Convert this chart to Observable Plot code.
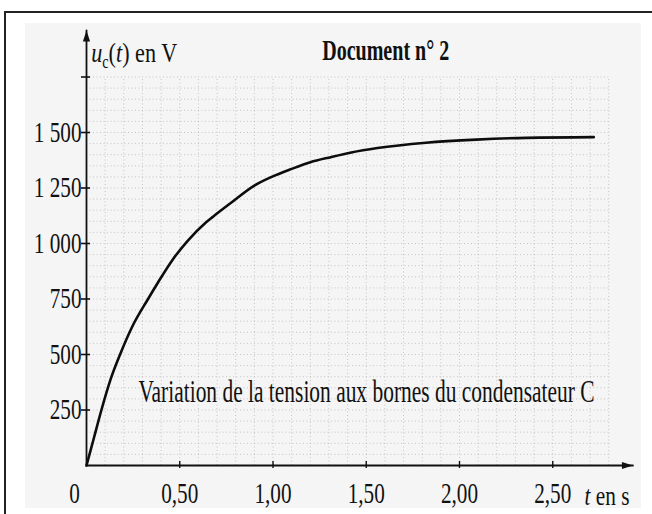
<!DOCTYPE html>
<html>
<head>
<meta charset="utf-8">
<script src="https://cdn.jsdelivr.net/npm/d3@7"></script>
<script src="https://cdn.jsdelivr.net/npm/@observablehq/plot@0.6"></script>
<style>
html, body { margin: 0; padding: 0; background: #fff; }
#wrap { position: relative; width: 652px; height: 514px; overflow: hidden; }
#panel { position: absolute; left: 25px; top: 23px; width: 616px; height: 485px; background: #f5f5f5; }
#border { position: absolute; left: 4px; top: 11px; width: 700px; height: 600px; border-top: 2px solid #222; border-left: 2px solid #222; }
#chart { position: absolute; left: 0; top: 0; }
</style>
</head>
<body>
<div id="wrap"><div id="panel"></div><div id="border"></div><div id="chart"></div></div>
<script>
// ---- data ----
const times    = [0, 0.04, 0.08, 0.13, 0.18, 0.245, 0.33, 0.38, 0.46, 0.54, 0.64, 0.68, 0.77, 0.90, 0.99, 1.10, 1.20, 1.31, 1.42, 1.56, 1.82, 2.09, 2.36, 2.72];
const voltages = [0, 125, 250, 390, 500, 625, 750, 820, 925, 1010, 1095, 1122, 1180, 1261, 1299, 1336, 1366, 1389, 1410, 1430, 1454, 1468, 1476, 1479];
const xTickValues = [0.5, 1, 1.5, 2, 2.5];
const xOriginLabel = ["0"];
const yTickValues = [250, 500, 750, 1000, 1250, 1500];
const yTickMarks = [250, 500, 750, 1000, 1250, 1500, 1750];
const gridTimes = d3.range(1, 29).map(i => i / 10);      // 0.1 ... 2.8 s
const gridVolts = d3.range(1, 36).map(i => i * 50);      // 50 ... 1750 V
const xAxisEnd = 2.93;
const yAxisEnd = 1960;
const titleText = "Document n° 2";
const captionText = "Variation de la tension aux bornes du condensateur C";
const xLabelText = "t en s";
const yLabelText = "uc(t) en V";

const curve = times.map((t, i) => ({t, u: voltages[i]}));
const xAxisLine = [{t: 0, u: 0}, {t: xAxisEnd, u: 0}];
const yAxisLine = [{t: 0, u: 0}, {t: 0, u: yAxisEnd}];

const FONT = "'Liberation Serif', 'Times New Roman', serif";
const INK = "#111";
const locale = d3.formatLocale({decimal: ",", thousands: " ", grouping: [3], currency: ["", ""]});
const yFmt = locale.format(",d");
const xFmt = locale.format(".2f");

function arrowHead(color) {
  const m = d3.create("svg:marker")
    .attr("viewBox", "-12 -5 13 10")
    .attr("markerUnits", "userSpaceOnUse")
    .attr("markerWidth", 13)
    .attr("markerHeight", 10)
    .attr("refX", 0).attr("refY", 0)
    .attr("orient", "auto");
  m.append("path").attr("d", "M-11,-3.6L0,0L-11,3.6Z").attr("fill", color).attr("stroke", "none");
  return m.node();
}

const gridStyle = {stroke: "#8c8c8c", strokeWidth: 1, strokeDasharray: "1 2.5", strokeOpacity: 0.45};

const plot = Plot.plot({
  width: 652,
  height: 514,
  marginLeft: 86,
  marginRight: 6.5,
  marginTop: 21,
  marginBottom: 49,
  x: {domain: [0, 3], label: null},
  y: {domain: [0, 2000], label: null},
  style: {background: "transparent", fontFamily: FONT, fontSize: "29px", color: INK, overflow: "visible"},
  marks: [
    Plot.ruleX(gridTimes, {y1: 0, y2: 1750, ...gridStyle}),
    Plot.ruleY(gridVolts, {x1: 0, x2: 2.8, ...gridStyle}),
    Plot.ruleX(xTickValues, {y1: 0, y2: 0, insetTop: -4, insetBottom: -3, stroke: INK, strokeWidth: 1.4}),
    Plot.ruleY(yTickMarks, {x1: 0, x2: 0, insetLeft: -5, insetRight: -4, stroke: INK, strokeWidth: 1.6}),
    Plot.line(xAxisLine, {x: "t", y: "u", stroke: INK, strokeWidth: 1.8, markerEnd: arrowHead}),
    Plot.line(yAxisLine, {x: "t", y: "u", stroke: INK, strokeWidth: 1.8, markerEnd: arrowHead}),
    Plot.line(curve, {x: "t", y: "u", curve: "monotone-x", stroke: "#0d0d0d", strokeWidth: 2.6}),
    Plot.axisX(xTickValues, {anchor: "bottom", label: null, tickSize: 0, tickPadding: 17, tickFormat: xFmt, fontSize: 29, fill: INK}),
    Plot.axisX([0], {anchor: "bottom", label: null, tickSize: 0, tickPadding: 17, dx: -12, tickFormat: () => xOriginLabel[0], fontSize: 29, fill: INK}),
    Plot.axisY(yTickValues, {anchor: "left", label: null, tickSize: 0, tickPadding: 5, tickFormat: yFmt, fontSize: 29, fill: INK}),
    Plot.text([titleText], {frameAnchor: "top-left", dx: 235.7, dy: 38, text: d => d, textAnchor: "start", lineAnchor: "bottom", fontSize: 29, fontWeight: "bold", fill: INK}),
    Plot.text([yLabelText], {frameAnchor: "top-left", dx: 4.7, dy: 40.7, text: d => d, textAnchor: "start", lineAnchor: "bottom", fontSize: 28, fill: INK}),
    Plot.text([captionText], {frameAnchor: "top-left", dx: 52, dy: 380, text: d => d, textAnchor: "start", lineAnchor: "bottom", fontSize: 32, fill: INK}),
    Plot.text([xLabelText], {frameAnchor: "top-left", dx: 498, dy: 483, text: d => d, textAnchor: "start", lineAnchor: "bottom", fontSize: 28, fill: INK})
  ]
});

document.getElementById("chart").appendChild(plot);

const svg = d3.select(plot);
const byText = s => svg.selectAll("text").filter(function () { return this.textContent === s; });
const titleSel = byText(titleText);
const captionSel = byText(captionText);
const yl = byText(yLabelText);
const xl = byText(xLabelText);
const tickSel = svg.selectAll("text").filter(function () {
  return this.textContent !== titleText && this.textContent !== captionText &&
         this.textContent !== yLabelText && this.textContent !== xLabelText;
});

// rich text for the axis labels
yl.text(null);
yl.append("tspan").attr("font-style", "italic").text("u");
yl.append("tspan").attr("font-size", 18).attr("dy", 6).text("c");
yl.append("tspan").attr("dy", -6).text("(");
yl.append("tspan").attr("font-style", "italic").text("t");
yl.append("tspan").text(") en V");
xl.text(null);
xl.append("tspan").attr("font-style", "italic").text("t");
xl.append("tspan").text(" en s");

// the scanned lettering is narrow: squeeze horizontally
function squeezeTo(sel, width) {
  sel.each(function () {
    this.setAttribute("lengthAdjust", "spacingAndGlyphs");
    this.setAttribute("textLength", width(this));
  });
}
squeezeTo(tickSel, n => n.getComputedTextLength() * 0.73);
squeezeTo(titleSel, () => 127);
squeezeTo(yl, () => 86);
squeezeTo(captionSel, () => 456);
squeezeTo(xl, () => 45);
</script>
</body>
</html>
